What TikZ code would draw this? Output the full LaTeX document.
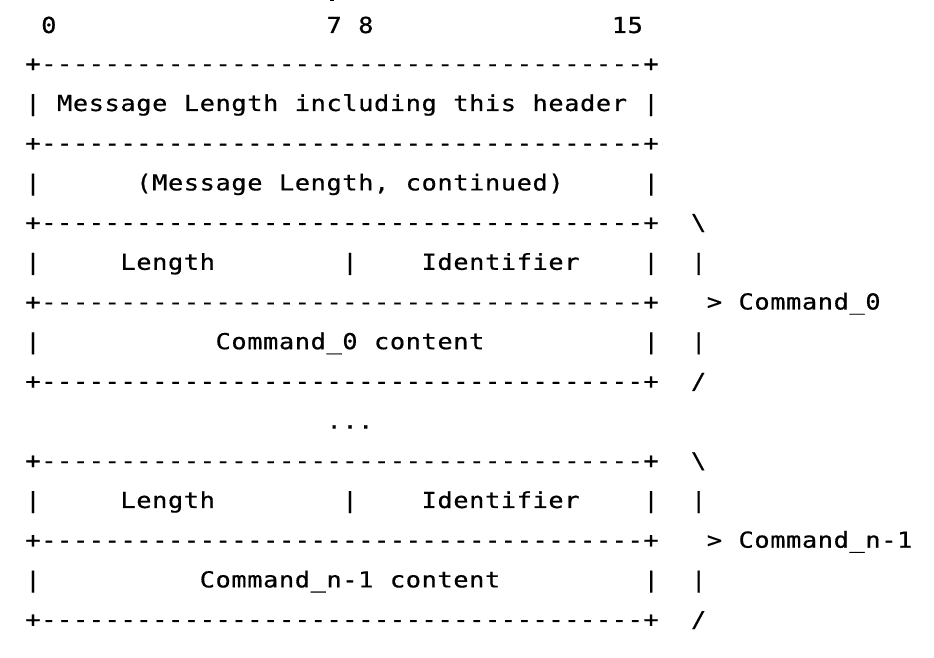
\documentclass[tikz,border=0pt]{standalone}
\usepackage{fontspec}
\newfontfamily\asciifont[FakeStretch=1.15,FakeBold=0.6]{DejaVu Sans Mono}
\newlength\cw
\setlength\cw{15.85pt}
\def\gridend{\gridend}
\def\dcell{\makebox[\cw][c]{-}}
\def\dten{\dcell\dcell\dcell\dcell\dcell\dcell\dcell\dcell\dcell\dcell}
\def\D{\dten\dten\dten\dcell\dcell\dcell\dcell\dcell\dcell\dcell\dcell}
\def\gridloop#1{\ifx#1\gridend\else\ifx#1\D\D\else\makebox[\cw][c]{#1}\fi\expandafter\gridloop\fi}
\def\gridrow#1{\gridloop#1\gridend}
\tikzset{
  asciirow/.style={anchor=base west, inner sep=0pt, outer sep=0pt,
    font=\asciifont\fontsize{22}{26}\selectfont}
}
\begin{document}
\begin{tikzpicture}[x=1pt,y=1pt]
\useasboundingbox (0,0) rectangle (934,658);
\fill (329.5,656.5) rectangle (333.5,658);
\node[asciirow] (r0) at (25.075,625.0) {\gridrow{~0~~~~~~~~~~~~~~~~~7~8~~~~~~~~~~~~~~~15}};
\node[asciirow] (r1) at (25.075,586.7) {\gridrow{+\D+}};
\node[asciirow] (r2) at (25.075,547.0) {\gridrow{|~Message~Length~including~this~header~|}};
\node[asciirow] (r3) at (25.075,507.3) {\gridrow{+\D+}};
\node[asciirow] (r4) at (25.075,467.6) {\gridrow{|~~~~~~(Message~Length,~continued)~~~~~|}};
\node[asciirow] (r5) at (25.075,427.9) {\gridrow{+\D+~~\textbackslash}};
\node[asciirow] (r6) at (25.075,388.2) {\gridrow{|~~~~~Length~~~~~~~~|~~~~Identifier~~~~|~~|}};
\node[asciirow] (r7) at (25.075,348.5) {\gridrow{+\D+~~~>~Command\_0}};
\node[asciirow] (r8) at (25.075,308.8) {\gridrow{|~~~~~~~~~~~Command\_0~content~~~~~~~~~~|~~|}};
\node[asciirow] (r9) at (25.075,269.1) {\gridrow{+\D+~~/}};
\node[asciirow] (r10) at (25.075,229.4) {\gridrow{~~~~~~~~~~~~~~~~~~~...}};
\node[asciirow] (r11) at (25.075,189.7) {\gridrow{+\D+~~\textbackslash}};
\node[asciirow] (r12) at (25.075,150.0) {\gridrow{|~~~~~Length~~~~~~~~|~~~~Identifier~~~~|~~|}};
\node[asciirow] (r13) at (25.075,110.3) {\gridrow{+\D+~~~>~Command\_n-1}};
\node[asciirow] (r14) at (25.075,70.6) {\gridrow{|~~~~~~~~~~Command\_n-1~content~~~~~~~~~|~~|}};
\node[asciirow] (r15) at (25.075,30.9) {\gridrow{+\D+~~/}};
\end{tikzpicture}
\end{document}
